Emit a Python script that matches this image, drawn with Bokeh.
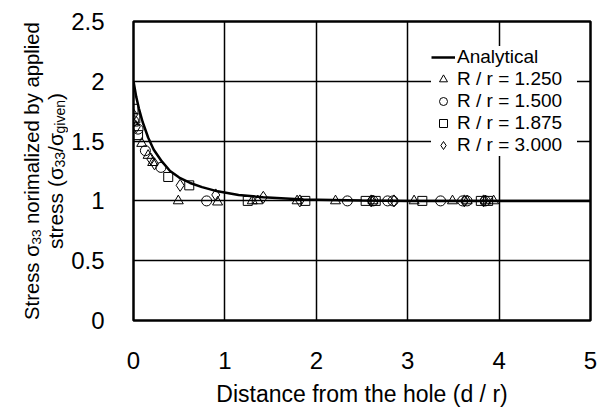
from math import pi
from bokeh.plotting import figure
from bokeh.layouts import row
from bokeh.models import Label, Legend, LegendItem, FixedTicker, Range1d
from bokeh.embed import file_html
from bokeh.resources import INLINE

# ---- data ----
analytical_d = [0.0, 0.03, 0.06, 0.10, 0.16, 0.22, 0.31, 0.40, 0.50, 0.62, 0.75, 0.92, 1.15, 1.42, 1.86, 2.50, 3.0, 4.0, 5.0]
analytical_s = [2.0, 1.87, 1.77, 1.66, 1.53, 1.43, 1.33, 1.25, 1.195, 1.15, 1.115, 1.08, 1.05, 1.03, 1.012, 1.003, 1.0, 1.0, 1.0]

r1250_d = [0.0, 0.09, 0.16, 0.21, 0.49, 0.92, 1.30, 1.36, 1.79, 2.21, 2.62, 3.07, 3.49, 3.65, 3.85, 3.94]
r1250_s = [1.65, 1.48, 1.38, 1.32, 1.00, 0.99, 1.00, 1.00, 1.00, 1.00, 1.00, 1.00, 1.00, 1.00, 1.00, 1.00]

r1500_d = [0.0, 0.05, 0.13, 0.30, 0.80, 2.34, 2.62, 2.78, 2.84, 3.36, 3.60, 3.65, 3.85]
r1500_s = [1.67, 1.60, 1.42, 1.28, 1.00, 1.00, 1.00, 1.00, 1.00, 1.00, 1.00, 1.00, 1.00]

r1875_d = [0.0, 0.02, 0.05, 0.38, 0.61, 1.25, 1.88, 2.54, 2.65, 3.16, 3.80, 3.88]
r1875_s = [1.77, 1.69, 1.55, 1.20, 1.13, 1.00, 1.00, 1.00, 1.00, 1.00, 1.00, 1.00]

r3000_d = [0.0, 0.03, 0.19, 0.23, 0.51, 0.90, 1.42, 1.82, 2.60, 2.85, 3.62, 3.83]
r3000_s = [1.72, 1.62, 1.35, 1.31, 1.13, 1.05, 1.03, 1.00, 1.00, 1.00, 1.00, 1.00]

series_labels = ["Analytical", "R / r = 1.250", "R / r = 1.500", "R / r = 1.875", "R / r = 3.000"]
x_ticks = [0, 1, 2, 3, 4, 5]
x_tick_labels = ["0", "1", "2", "3", "4", "5"]
y_ticks = [0, 0.5, 1.0, 1.5, 2.0, 2.5]
y_tick_labels = ["0", "0.5", "1", "1.5", "2", "2.5"]
x_title = "Distance from the hole (d / r)"

FONT = "Liberation Sans"
TOTAL_W, TOTAL_H = 597, 417
SPLIT = 68            # width of the strip holding the y-axis title
FRAME_LEFT, FRAME_TOP, FRAME_BOTTOM, FRAME_RIGHT = 133, 21, 320, 590

p = figure(width=TOTAL_W - SPLIT, height=TOTAL_H, x_range=Range1d(0, 5), y_range=Range1d(0, 2.5),
           output_backend="svg", toolbar_location=None,
           min_border_left=FRAME_LEFT - SPLIT, min_border_right=TOTAL_W - FRAME_RIGHT,
           min_border_top=FRAME_TOP, min_border_bottom=TOTAL_H - FRAME_BOTTOM)
p.background_fill_color = "white"
p.border_fill_color = "white"
p.outline_line_color = "black"
p.outline_line_width = 2.5

for ax in (p.xaxis[0], p.yaxis[0]):
    ax.axis_line_color = None
    ax.major_tick_line_color = None
    ax.minor_tick_line_color = None
    ax.major_label_text_font = FONT
    ax.major_label_text_font_size = "24px"
    ax.major_label_text_color = "black"

p.xaxis.ticker = FixedTicker(ticks=x_ticks)
p.yaxis.ticker = FixedTicker(ticks=y_ticks)
p.xaxis.major_label_overrides = {t: l for t, l in zip(x_ticks, x_tick_labels)}
p.yaxis.major_label_overrides = {t: l for t, l in zip(y_ticks, y_tick_labels)}
p.xaxis.major_label_standoff = 25
p.yaxis.major_label_standoff = 23
p.xaxis.axis_label = x_title
p.xaxis.axis_label_text_font = FONT
p.xaxis.axis_label_text_font_size = "23px"
p.xaxis.axis_label_text_font_style = "normal"
p.xaxis.axis_label_text_color = "black"
p.xaxis.axis_label_standoff = 9

p.xgrid.ticker = FixedTicker(ticks=x_ticks)
p.ygrid.ticker = FixedTicker(ticks=y_ticks)
for g in (p.xgrid[0], p.ygrid[0]):
    g.grid_line_color = "black"
    g.grid_line_width = 1.5

line_r = p.line(analytical_d, analytical_s, line_color="black", line_width=2.5)
tri = p.scatter(r1250_d, r1250_s, marker="triangle", size=10, line_color="black", fill_color=None, line_width=1)
cir = p.scatter(r1500_d, r1500_s, marker="circle", size=10, line_color="black", fill_color=None, line_width=1)
sq = p.scatter(r1875_d, r1875_s, marker="square", size=9, line_color="black", fill_color=None, line_width=1)
dia = p.scatter(r3000_d, r3000_s, marker="diamond", size=12, line_color="black", fill_color=None, line_width=1)

legend = Legend(items=[LegendItem(label=l, renderers=[r]) for l, r in
                       zip(series_labels, [line_r, tri, cir, sq, dia])],
                location=(298, 164))
legend.label_text_font = FONT
legend.label_text_font_size = "19px"
legend.label_text_color = "black"
legend.label_height = 20
legend.glyph_height = 20
legend.glyph_width = 24
legend.label_width = 120
legend.label_standoff = 2
legend.spacing = 0
legend.padding = 4
legend.margin = 0
legend.border_line_color = None
legend.background_fill_color = "white"
legend.background_fill_alpha = 1.0
p.add_layout(legend)

# ---- strip on the left with the rotated y-axis title (with subscripts) ----
# In a row the strip's frame is aligned with the main frame (screen y 21..320),
# so its y range is chosen so that data y = TOTAL_H - screen y.
t = figure(width=SPLIT, height=TOTAL_H, x_range=Range1d(0, SPLIT),
           y_range=Range1d(TOTAL_H - FRAME_BOTTOM, TOTAL_H - FRAME_TOP),
           output_backend="svg", toolbar_location=None,
           x_axis_location=None, y_axis_location=None,
           min_border_left=0, min_border_right=0, min_border_top=FRAME_TOP,
           min_border_bottom=TOTAL_H - FRAME_BOTTOM)
t.grid.visible = False
t.outline_line_color = None
t.background_fill_color = "white"
t.border_fill_color = "white"

AW = {'S': 667, 't': 278, 'r': 333, 'e': 556, 's': 500, ' ': 278, 'σ': 600, '3': 556,
      'n': 556, 'o': 556, 'i': 222, 'm': 833, 'a': 556, 'l': 222, 'z': 500, 'd': 556,
      'b': 556, 'y': 500, 'p': 556, '(': 333, ')': 333, '/': 278, 'g': 556, 'v': 500}

def text_w(s, size):
    return sum(AW.get(c, 556) for c in s) / 1000.0 * size

line1 = [("Stress σ", 20.3, False), ("33", 13.5, True), (" norimalized by applied", 20.3, False)]
line2 = [("stress (σ", 21, False), ("33", 14, True), ("/σ", 21, False), ("given", 14, True), (")", 21, False)]

for line, base_px in ((line1, 31.5), (line2, 55)):
    total = sum(text_w(s_, sz) for s_, sz, _ in line)
    pos = 170.5 + total / 2
    for s_, sz, sub in line:
        bx = base_px + (4 if sub else 0)
        lead = len(s_) - len(s_.lstrip(" "))   # leading spaces are collapsed in SVG: advance instead
        pos -= text_w(" " * lead, sz)
        body = s_.lstrip(" ")
        t.add_layout(Label(x=bx, y=TOTAL_H - pos, text=body, angle=pi / 2,
                           text_font=FONT, text_font_size=f"{sz}px",
                           text_align="left", text_baseline="alphabetic",
                           text_color="black"))
        pos -= text_w(body, sz)

layout = row(t, p, spacing=0)
open("out.html", "w").write(file_html(layout, INLINE))
